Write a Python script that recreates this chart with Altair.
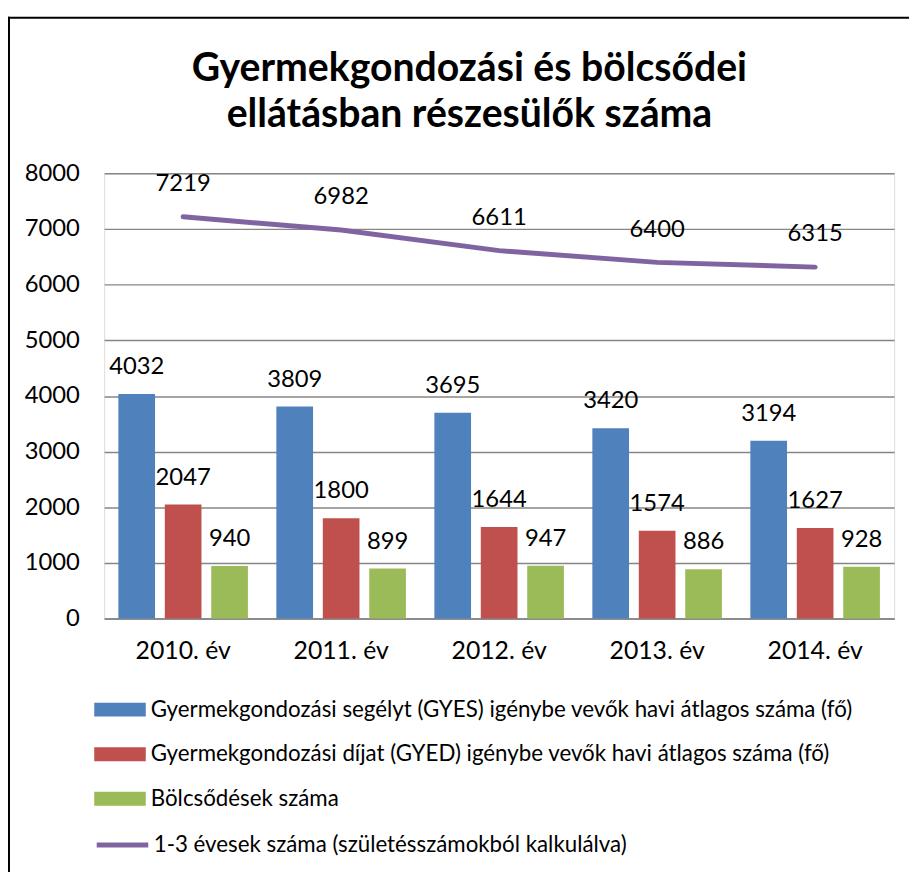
import altair as alt
import pandas as pd

years = ["2010. év", "2011. év", "2012. év", "2013. év", "2014. év"]
series = [
    "Gyermekgondozási segélyt (GYES) igénybe vevők havi átlagos száma (fő)",
    "Gyermekgondozási díjat (GYED) igénybe vevők havi átlagos száma (fő)",
    "Bölcsődések száma",
]
gyes = [4032, 3809, 3695, 3420, 3194]
gyed = [2047, 1800, 1644, 1574, 1627]
bolcsode = [940, 899, 947, 886, 928]
line_label = "1-3 évesek száma (születésszámokból kalkulálva)"
evesek = [7219, 6982, 6611, 6400, 6315]
bar_colors = ["#4F81BD", "#C0504D", "#9BBB59"]
line_color = "#8064A2"

rows = []
for s, vals in zip(series, [gyes, gyed, bolcsode]):
    for y, v in zip(years, vals):
        rows.append({"year": y, "series": s, "value": v})
bars_df = pd.DataFrame(rows)
line_df = pd.DataFrame({"year": years, "value": evesek, "label": [line_label] * len(years)})

FONT = "Lato"

x_enc = alt.X(
    "year:N",
    sort=years,
    scale=alt.Scale(paddingInner=0.18, paddingOuter=0.09),
    axis=alt.Axis(
        title=None, labelAngle=0, ticks=False, domain=True, domainColor="#868686",
        domainWidth=1.5, labelPadding=20, labelFontSize=25, labelFont=FONT, labelColor="#000",
    ),
)
y_enc = alt.Y(
    "value:Q",
    scale=alt.Scale(domain=[0, 8000], nice=False),
    axis=alt.Axis(
        title=None, values=[0, 1000, 2000, 3000, 4000, 5000, 6000, 7000, 8000], format="d",
        ticks=False, domain=False, grid=True, gridColor="#868686", gridWidth=1.5,
        labelPadding=25, labelFontSize=24, labelFont=FONT, labelColor="#000",
    ),
)
xoff = alt.XOffset("series:N", sort=series, scale=alt.Scale(paddingInner=0.21, paddingOuter=0))

bars = alt.Chart(bars_df).mark_bar().encode(
    x=x_enc,
    xOffset=xoff,
    y=y_enc,
    color=alt.Color(
        "series:N", sort=series,
        scale=alt.Scale(domain=series, range=bar_colors),
        legend=alt.Legend(
            title=None, orient="none", legendX=1, legendY=526, direction="vertical",
            symbolType="M-1.733,-0.467H1.733V0.467H-1.733Z", symbolSize=900,
            symbolStrokeWidth=0, symbolOpacity=1,
            labelFontSize=22.5, labelFont=FONT, labelColor="#000", labelOffset=16,
            rowPadding=18, padding=0, labelLimit=1000,
        ),
    ),
)

bar_text = alt.Chart(bars_df).mark_text(
    baseline="alphabetic", dy=-20, fontSize=24, font=FONT, color="#000"
).encode(x=alt.X("year:N", sort=years), xOffset=xoff, y="value:Q", text="value:Q")

line = alt.Chart(line_df).mark_line(strokeWidth=5, strokeCap="round").encode(
    x=alt.X("year:N", sort=years),
    y="value:Q",
    stroke=alt.Stroke(
        "label:N",
        scale=alt.Scale(domain=[line_label], range=[line_color]),
        legend=alt.Legend(
            title=None, orient="none", legendX=1, legendY=660,
            symbolType="M-1.733,0H1.733", symbolSize=900, symbolStrokeWidth=5,
            labelFontSize=22.5, labelFont=FONT, labelColor="#000", labelOffset=14,
            padding=0, labelLimit=1000,
        ),
    ),
)

line_text = alt.Chart(line_df).mark_text(
    baseline="alphabetic", dy=-26, fontSize=24, font=FONT, color="#000"
).encode(x=alt.X("year:N", sort=years), y="value:Q", text="value:Q")

frame_df = pd.DataFrame({"k": [0]})
frame_left = alt.Chart(frame_df).mark_rule(color="#000", strokeWidth=2, clip=False).encode(
    x=alt.value(-96), y=alt.value(-158), y2=alt.value(720)
)
frame_top = alt.Chart(frame_df).mark_rule(color="#000", strokeWidth=2, clip=False).encode(
    x=alt.value(-97), x2=alt.value(820), y=alt.value(-157)
)

chart = alt.layer(bars, bar_text, line, line_text, frame_left, frame_top).resolve_legend(
    color="independent", stroke="independent"
).properties(
    width=797,
    height=449,
    title=alt.TitleParams(
        text=["Gyermekgondozási és bölcsődei", "ellátásban részesülők száma"],
        font=FONT, fontSize=39.5, fontWeight="bold", color="#000",
        anchor="middle", dx=-30, offset=-121, lineHeight=47,
    ),
    autosize=alt.AutoSizeParams(type="none"),
    padding={"left": 97, "top": 163, "right": 15, "bottom": 252},
).configure_view(stroke=None).configure(background="white")

chart.save("out.html", embed_options={"renderer": "svg", "actions": False})
